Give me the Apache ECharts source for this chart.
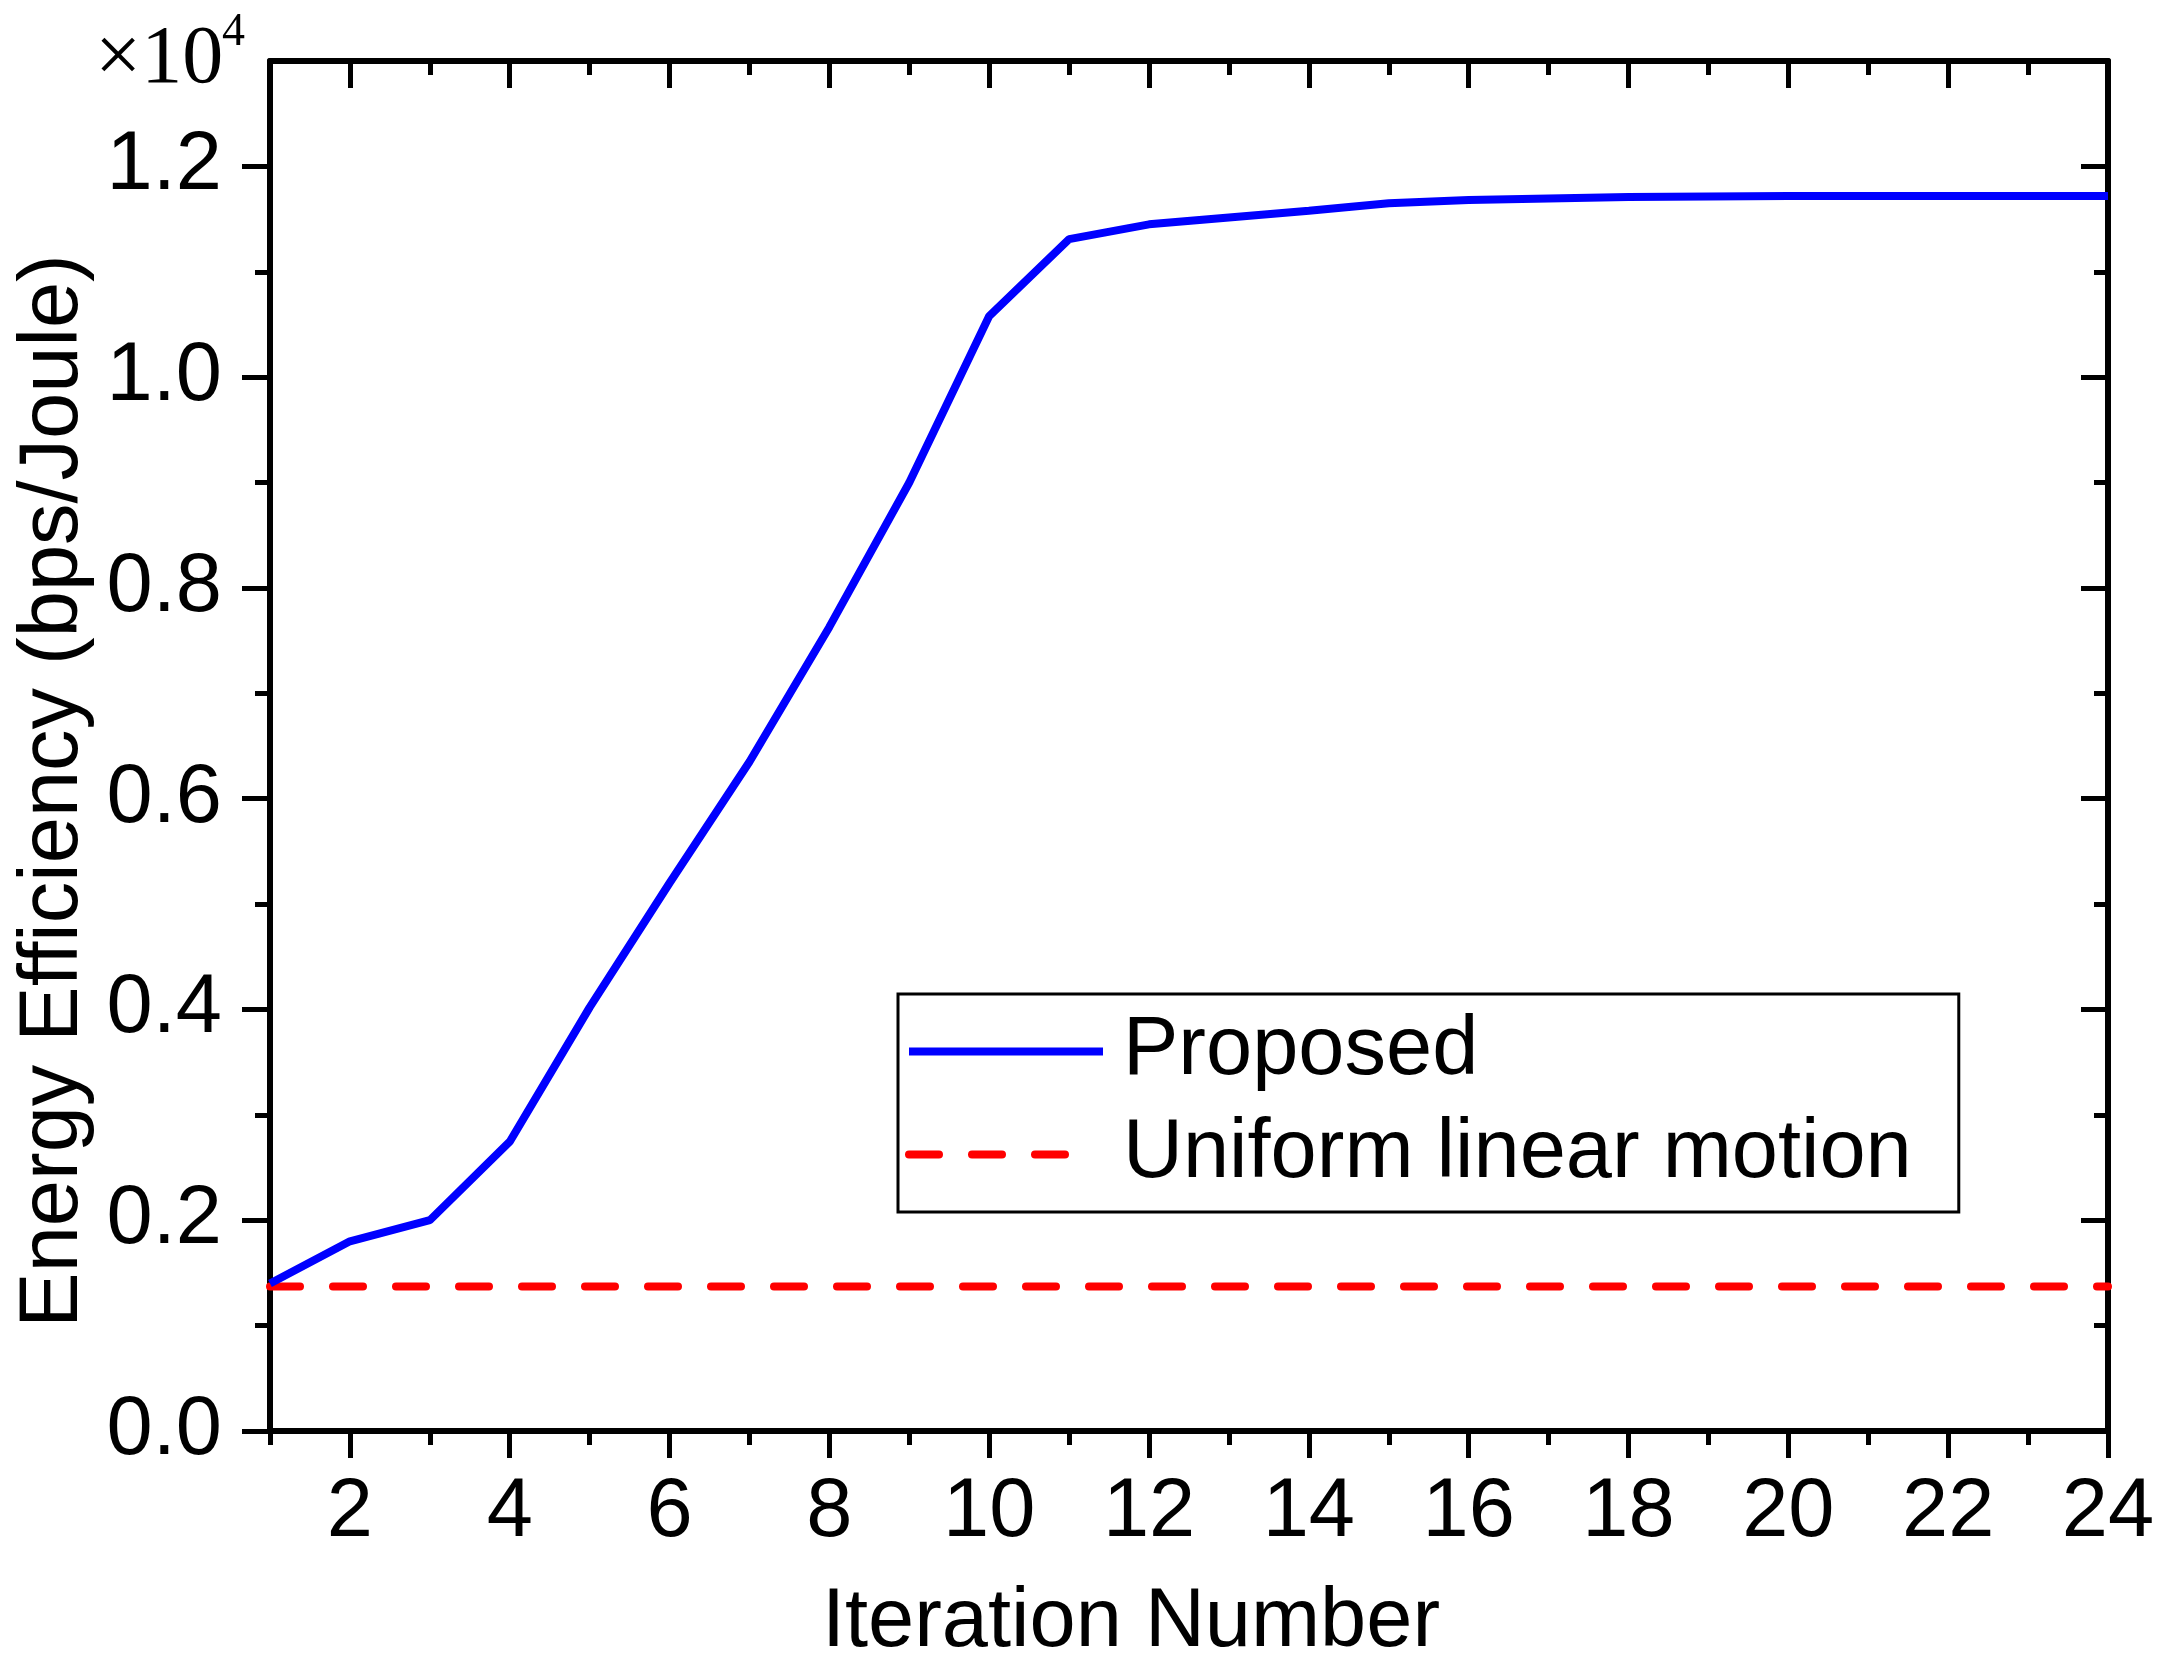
<!DOCTYPE html>
<html>
<head>
<meta charset="utf-8">
<title>Energy Efficiency vs Iteration</title>
<script src="https://cdn.jsdelivr.net/npm/echarts@6/dist/echarts.min.js"></script>
<style>
  html, body { margin: 0; padding: 0; background: #fff; }
  #chart { width: 2168px; height: 1673px; }
</style>
</head>
<body>
<div id="chart"></div>
<script>
// 数据
const iterations = [1, 2, 3, 4, 5, 6, 7, 8, 9, 10, 11, 12, 13, 14, 15, 16, 17, 18, 19, 20, 21, 22, 23, 24];
const proposed = [1400, 1800, 2000, 2745, 4020, 5200, 6350, 7630, 9000, 10580, 11310, 11450,
    11515, 11580, 11650, 11680, 11695, 11710, 11715, 11718, 11720, 11720, 11720, 11720];
const uniformLinear = [1370, 1370, 1370, 1370, 1370, 1370, 1370, 1370, 1370, 1370, 1370, 1370,
    1370, 1370, 1370, 1370, 1370, 1370, 1370, 1370, 1370, 1370, 1370, 1370];
const seriesNames = ["Proposed", "Uniform linear motion"];

// 刻度
const xMajorTicks = [2, 4, 6, 8, 10, 12, 14, 16, 18, 20, 22, 24];
const xMinorTicks = [1, 3, 5, 7, 9, 11, 13, 15, 17, 19, 21, 23];
const yMajorTicks = [0, 2000, 4000, 6000, 8000, 10000, 12000];
const yMinorTicks = [1000, 3000, 5000, 7000, 9000, 11000];

(function () {
    const FONT = "'Liberation Sans', Arial, sans-serif";
    const SERIF = "'Liberation Serif', 'Times New Roman', serif";
    const X_MIN = 1, X_MAX = 24, Y_MIN = 0, Y_MAX = 13000;

    let myChart = echarts.init(document.getElementById('chart'));

    const pair = (xs, ys) => xs.map((x, i) => [x, ys[i]]);

    // 坐标轴的公共部分
    function xAxisOf(position, ticks, len, inside, showLine, showLabel) {
        return {
            type: 'value',
            min: X_MIN,
            max: X_MAX,
            position: position,
            splitLine: { show: false },
            axisLine: { show: showLine, onZero: false, lineStyle: { color: '#000', width: 6 } },
            axisTick: {
                show: true, inside: inside, length: len, customValues: ticks,
                lineStyle: { color: '#000', width: 5 }
            },
            axisLabel: {
                show: showLabel, customValues: ticks, margin: 41,
                fontSize: 83, fontFamily: FONT, color: '#000'
            }
        };
    }

    function yAxisOf(position, ticks, len, inside, showLine, showLabel) {
        return {
            type: 'value',
            min: Y_MIN,
            max: Y_MAX,
            position: position,
            splitLine: { show: false },
            axisLine: { show: showLine, onZero: false, lineStyle: { color: '#000', width: 6 } },
            axisTick: {
                show: true, inside: inside, length: len, customValues: ticks,
                lineStyle: { color: '#000', width: 5 }
            },
            axisLabel: {
                show: showLabel, customValues: ticks, margin: 48,
                fontSize: 83, fontFamily: FONT, color: '#000',
                formatter: v => (v / 10000).toFixed(1)
            }
        };
    }

    let xBottom = xAxisOf('bottom', xMajorTicks, 27, false, true, true);
    xBottom.name = 'Iteration Number';
    xBottom.nameLocation = 'middle';
    xBottom.nameGap = 151;
    xBottom.nameTextStyle = { fontSize: 83, fontFamily: FONT, color: '#000', padding: [0, 116, 0, 0] };

    let yLeft = yAxisOf('left', yMajorTicks, 28, false, true, true);
    yLeft.name = 'Energy Efficiency (bps/Joule)';
    yLeft.nameLocation = 'middle';
    yLeft.nameGap = 168;
    yLeft.nameTextStyle = { fontSize: 83, fontFamily: FONT, color: '#000', padding: [0, 90, 0, 0] };

    let option = {
        animation: false,
        backgroundColor: '#fff',
        grid: { left: 270, right: 60, top: 61, bottom: 242, containLabel: false, outerBoundsMode: 'none' },
        xAxis: [
            xBottom,
            xAxisOf('bottom', xMinorTicks, 14, false, false, false),
            xAxisOf('top', xMajorTicks, 27, true, true, false),
            xAxisOf('top', xMinorTicks, 14, true, false, false)
        ],
        yAxis: [
            yLeft,
            yAxisOf('left', yMinorTicks, 15, false, false, false),
            yAxisOf('right', yMajorTicks, 27, true, true, false),
            yAxisOf('right', yMinorTicks, 14, true, false, false)
        ],
        legend: {
            orient: 'vertical',
            left: 898,
            top: 994,
            padding: [16, 47, 16, 7],
            itemGap: 20,
            itemWidth: 194,
            itemHeight: 2,
            borderColor: '#000',
            borderWidth: 3,
            data: [
                { name: seriesNames[0] },
                // 图例里只画三段虚线
                { name: seriesNames[1], lineStyle: { type: [30, 33, 30, 33, 30, 90] } }
            ],
            // 图例里不要圆点
            itemStyle: { opacity: 0 },
            lineStyle: { width: 8 },
            textStyle: { fontSize: 83, fontFamily: FONT, color: '#000', padding: [0, 0, 0, 15] }
        },
        // ×10^4
        graphic: [
            {
                type: 'text', left: 95, top: 19,
                style: { text: '×10', fontSize: 82, fontFamily: SERIF, fill: '#000' }
            },
            {
                type: 'text', left: 222, top: 10,
                style: { text: '4', fontSize: 46, fontFamily: SERIF, fill: '#000' }
            }
        ],
        series: [
            {
                name: seriesNames[0],
                type: 'line',
                symbol: 'none',
                color: '#0000ff',
                lineStyle: { color: '#0000ff', width: 8 },
                data: pair(iterations, proposed),
                z: 3
            },
            {
                name: seriesNames[1],
                type: 'line',
                symbol: 'none',
                color: '#ff0000',
                lineStyle: { color: '#ff0000', width: 8, type: [30, 33], cap: 'round' },
                data: pair(iterations, uniformLinear),
                z: 2
            }
        ]
    };

    myChart.setOption(option);
    window.addEventListener("resize", function () {
        myChart.resize();
    });
})();
</script>
</body>
</html>
